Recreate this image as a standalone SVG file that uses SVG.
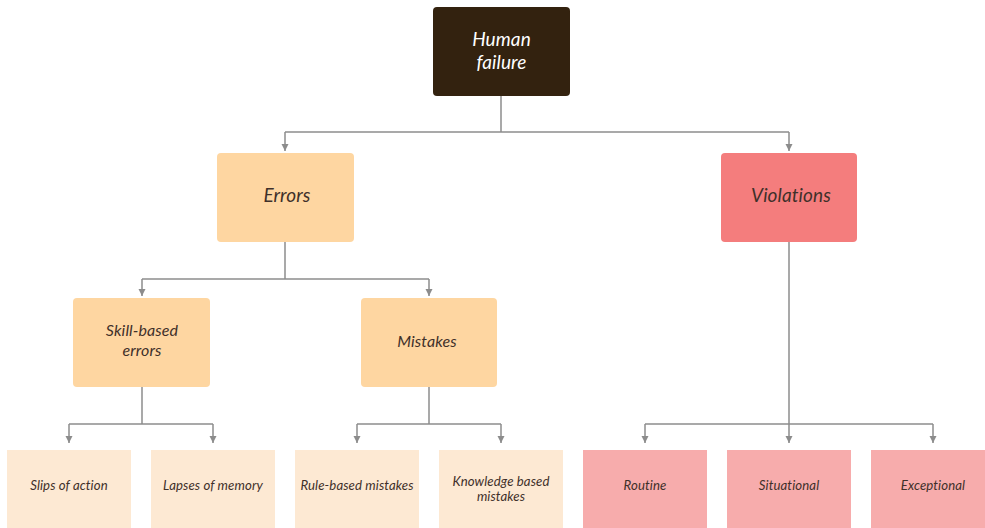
<svg xmlns="http://www.w3.org/2000/svg" width="985" height="528" viewBox="0 0 985 528">
  <defs>
    <marker id="arrow" viewBox="0 0 10 10" refX="10" refY="5" markerWidth="5" markerHeight="5" markerUnits="strokeWidth" orient="auto">
      <path d="M0,0 L10,5 L0,10 z" fill="#8c8c8c"/>
    </marker>
    <style>
      text { font-family: Lato, "Open Sans", "Liberation Sans", sans-serif; font-style: italic; font-weight: 400; text-anchor: middle; fill: #3f302a; letter-spacing: 0.1px; }
      .root text { fill: #ffffff; font-size: 19px; }
      .lvl1 text { font-size: 19px; }
      .lvl2 text { font-size: 16px; }
      .leaf text { font-size: 13.2px; }
      .edge { fill: none; stroke: #8c8c8c; stroke-width: 1.5; }
      .arr { marker-end: url(#arrow); }
      .dark { fill: #33220f; }
      .peach { fill: #fed6a1; }
      .red { fill: #f47d7d; }
      .cream { fill: #fde9d3; }
      .pink { fill: #f7acac; }
    </style>
  </defs>
  <rect width="985" height="528" fill="#ffffff"/>

  <g id="connectors">
    <!-- Human failure to Errors / Violations -->
    <path class="edge" d="M501,96 V132"/>
    <path class="edge" d="M285,132 H789"/>
    <path class="edge arr" d="M285,132 V151"/>
    <path class="edge arr" d="M789,132 V151"/>
    <!-- Errors to Skill-based errors / Mistakes -->
    <path class="edge" d="M285,242 V279"/>
    <path class="edge" d="M142,279 H429"/>
    <path class="edge arr" d="M142,279 V296"/>
    <path class="edge arr" d="M429,279 V296"/>
    <!-- Skill-based errors to leaves -->
    <path class="edge" d="M142,387 V424"/>
    <path class="edge" d="M69,424 H213"/>
    <path class="edge arr" d="M69,424 V443"/>
    <path class="edge arr" d="M213,424 V443"/>
    <!-- Mistakes to leaves -->
    <path class="edge" d="M429,387 V424"/>
    <path class="edge" d="M357,424 H501"/>
    <path class="edge arr" d="M357,424 V443"/>
    <path class="edge arr" d="M501,424 V443"/>
    <!-- Violations to leaves -->
    <path class="edge" d="M645,424 H933"/>
    <path class="edge arr" d="M789,242 V443"/>
    <path class="edge arr" d="M645,424 V443"/>
    <path class="edge arr" d="M933,424 V443"/>
  </g>

  <g id="human-failure" class="root">
    <rect class="dark" x="433" y="7" width="137" height="89" rx="4"/>
    <text x="501.5" y="46">Human</text>
    <text x="501.5" y="69">failure</text>
  </g>

  <g id="errors" class="lvl1">
    <rect class="peach" x="217" y="153" width="137" height="89" rx="4"/>
    <text x="287" y="202">Errors</text>
  </g>

  <g id="violations" class="lvl1">
    <rect class="red" x="721" y="153" width="136" height="89" rx="4"/>
    <text x="791" y="202">Violations</text>
  </g>

  <g id="skill-based-errors" class="lvl2">
    <rect class="peach" x="73" y="298" width="137" height="89" rx="4"/>
    <text x="142" y="336">Skill-based</text>
    <text x="142" y="356">errors</text>
  </g>

  <g id="mistakes" class="lvl2">
    <rect class="peach" x="361" y="298" width="136" height="89" rx="4"/>
    <text x="427" y="347">Mistakes</text>
  </g>

  <g id="slips-of-action" class="leaf">
    <rect class="cream" x="7" y="450" width="124" height="80"/>
    <text x="69" y="490">Slips of action</text>
  </g>

  <g id="lapses-of-memory" class="leaf">
    <rect class="cream" x="151" y="450" width="124" height="80"/>
    <text x="213" y="490">Lapses of memory</text>
  </g>

  <g id="rule-based-mistakes" class="leaf">
    <rect class="cream" x="295" y="450" width="124" height="80"/>
    <text x="357" y="490">Rule-based mistakes</text>
  </g>

  <g id="knowledge-based-mistakes" class="leaf">
    <rect class="cream" x="439" y="450" width="124" height="80"/>
    <text x="501" y="486">Knowledge based</text>
    <text x="501" y="501">mistakes</text>
  </g>

  <g id="routine" class="leaf">
    <rect class="pink" x="583" y="450" width="124" height="80"/>
    <text x="645" y="490">Routine</text>
  </g>

  <g id="situational" class="leaf">
    <rect class="pink" x="727" y="450" width="124" height="80"/>
    <text x="789" y="490">Situational</text>
  </g>

  <g id="exceptional" class="leaf">
    <rect class="pink" x="871" y="450" width="124" height="80"/>
    <text x="933" y="490">Exceptional</text>
  </g>
</svg>
